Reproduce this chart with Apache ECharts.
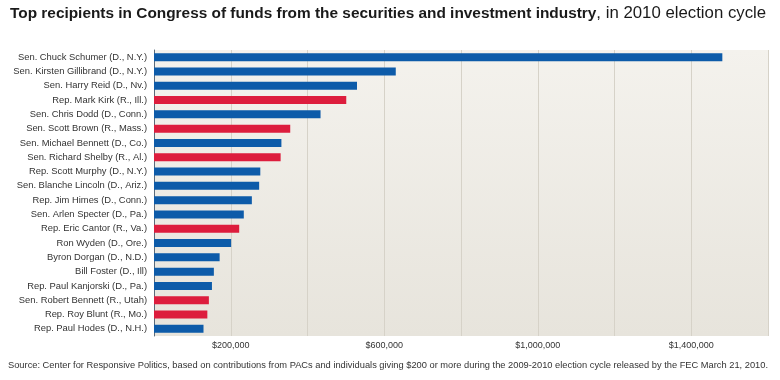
<!DOCTYPE html>
<html>
<head>
<meta charset="utf-8">
<script src="https://cdn.jsdelivr.net/npm/echarts@6/dist/echarts.min.js"></script>
<style>
html,body{margin:0;padding:0;background:#fff;}
#c{width:780px;height:380px;}
</style>
</head>
<body>
<div id="c"></div>
<script>
var names = [
  "Sen. Chuck Schumer (D., N.Y.)",
  "Sen. Kirsten Gillibrand (D., N.Y.)",
  "Sen. Harry Reid (D., Nv.)",
  "Rep. Mark Kirk (R., Ill.)",
  "Sen. Chris Dodd (D., Conn.)",
  "Sen. Scott Brown (R., Mass.)",
  "Sen. Michael Bennett (D., Co.)",
  "Sen. Richard Shelby (R., Al.)",
  "Rep. Scott Murphy (D., N.Y.)",
  "Sen. Blanche Lincoln (D., Ariz.)",
  "Rep. Jim Himes (D., Conn.)",
  "Sen. Arlen Specter (D., Pa.)",
  "Rep. Eric Cantor (R., Va.)",
  "Ron Wyden (D., Ore.)",
  "Byron Dorgan (D., N.D.)",
  "Bill Foster (D., Ill)",
  "Rep. Paul Kanjorski (D., Pa.)",
  "Sen. Robert Bennett (R., Utah)",
  "Rep. Roy Blunt (R., Mo.)",
  "Rep. Paul Hodes (D., N.H.)"
];
var amounts = [1481000, 630000, 529000, 501000, 434000, 355000, 332000, 330000, 277000, 274000,
               255000, 234000, 222000, 201000, 171000, 156000, 151000, 143000, 139000, 129000];
var parties = ["D","D","D","R","D","R","D","R","D","D","D","D","R","D","D","D","D","R","R","D"];
var tickLabels = ["$200,000", "$600,000", "$1,000,000", "$1,400,000"];
var tickValues = [200000, 600000, 1000000, 1400000];

var partyColor = { D: "#0d5ba9", R: "#dd1d3d" };
var FONT = "'Liberation Sans', Arial, sans-serif";

var chart = echarts.init(document.getElementById('c'), null, {renderer: 'canvas'});
chart.setOption({
  animation: false,
  backgroundColor: '#ffffff',
  title: {
    left: 10, top: 5, padding: 0,
    text: '{b|Top recipients in Congress of funds from the securities and investment industry}{n|, in 2010 election cycle}',
    textStyle: {
      rich: {
        b: { fontFamily: FONT, fontWeight: 'bold', fontSize: 15.4, color: '#1a1a1a' },
        n: { fontFamily: FONT, fontWeight: 'normal', fontSize: 16.8, color: '#1a1a1a' }
      }
    }
  },
  graphic: [{
    type: 'text', left: 8, top: 361,
    style: {
      text: 'Source: Center for Responsive Politics, based on contributions from PACs and individuals giving $200 or more during the 2009-2010 election cycle released by the FEC March 21, 2010.',
      font: '9.3px ' + FONT, fill: '#333'
    }
  }],
  grid: {
    left: 154, right: 12, top: 50, bottom: 44,
    show: true, borderWidth: 0,
    backgroundColor: new echarts.graphic.LinearGradient(0, 0, 0, 1, [
      {offset: 0, color: '#f4f2ed'}, {offset: 1, color: '#e7e4dc'}
    ])
  },
  xAxis: {
    type: 'value', min: 0, max: 1600000, interval: 200000,
    axisLine: { show: false }, axisTick: { show: false },
    splitLine: { show: true, lineStyle: { color: '#d6d2c8', width: 1 } },
    axisLabel: {
      color: '#333', fontSize: 9, fontFamily: FONT, margin: 5,
      formatter: function (v) {
        var i = tickValues.indexOf(v);
        return i >= 0 ? tickLabels[i] : '';
      }
    }
  },
  yAxis: {
    type: 'category', data: names, inverse: true,
    axisLine: { show: true, lineStyle: { color: '#5a6a7a', width: 1 } },
    axisTick: { show: false },
    axisLabel: { color: '#333', fontSize: 9.4, fontFamily: FONT, margin: 7 }
  },
  series: [{
    type: 'bar', barWidth: 8,
    data: amounts.map(function (v, i) {
      return { value: v, itemStyle: { color: partyColor[parties[i]] } };
    })
  }]
});
</script>
</body>
</html>
